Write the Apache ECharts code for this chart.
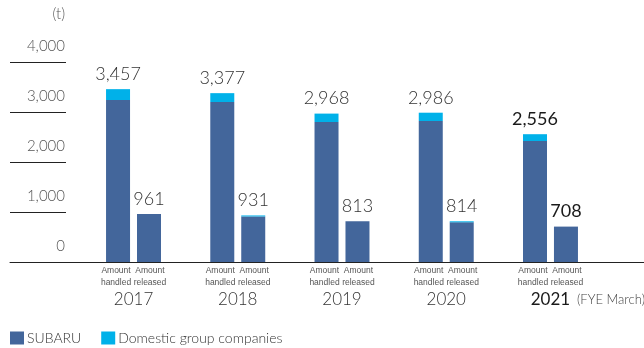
<!DOCTYPE html>
<html>
<head>
<meta charset="utf-8">
<script src="https://cdn.jsdelivr.net/npm/echarts@6/dist/echarts.min.js"></script>
<style>
  html, body { margin: 0; padding: 0; background: #fff; }
  #chart { width: 644px; height: 348px; }
</style>
</head>
<body>
<div id="chart"></div>
<script>
// Fiscal years (FYE March)
const years = ['2017', '2018', '2019', '2020', '2021'];
// Amount handled (t)
const handledSubaru = [3240, 3200, 2800, 2820, 2420];
const handledDomestic = [217, 177, 168, 166, 136];
// Amount released (t)
const releasedSubaru = [961, 911, 813, 794, 708];
const releasedDomestic = [0, 20, 0, 20, 0];
// Labels under each bar pair
const pairLabels = ['Amount\nhandled', 'Amount\nreleased'];
const seriesNames = ['SUBARU', 'Domestic group companies'];
const unitLabel = '(t)';
const fyeLabel = '(FYE March)';

const COLOR_SUBARU = '#43669b';
const COLOR_DOMESTIC = '#00b1e9';
const FONT = 'Lato, "Noto Sans", sans-serif';
const SMALL = '"Liberation Sans", Arial, sans-serif';
const lastIdx = years.length - 1;

const fmt = v => Number(v).toLocaleString('en-US');

function totalLabel(sub, dom) {
  return p => {
    const t = fmt(sub[p.dataIndex] + dom[p.dataIndex]);
    return p.dataIndex === lastIdx ? '{b|' + t + '}' : '{n|' + t + '}';
  };
}

const valueRich = {
  n: { fontFamily: FONT, fontSize: 18, color: '#333', fontWeight: 300 },
  b: { fontFamily: FONT, fontSize: 18, color: '#1a1a1a', fontWeight: 400 }
};

function bottomLabel(text, dx) {
  return {
    show: true, position: 'bottom', distance: 3, offset: [dx, 0],
    formatter: text, fontFamily: SMALL, fontSize: 8.5, lineHeight: 12, color: '#555'
  };
}

const chart = echarts.init(document.getElementById('chart'), null, { renderer: 'canvas' });

chart.setOption({
  animation: false,
  grid: [
    // bars
    { left: 81.4, right: 41.4, top: 62, bottom: 86 },
    // full-width baseline
    { left: 10, right: 0, top: 62, bottom: 86 },
    // short reference lines with value labels
    { left: 10, width: 56, top: 62, bottom: 86 }
  ],
  xAxis: [
    {
      gridIndex: 0, type: 'category', data: years,
      axisLine: { show: false }, axisTick: { show: false },
      axisLabel: {
        margin: 29, fontFamily: FONT, fontSize: 17, color: '#333', fontWeight: 300,
        formatter: (v, i) => i === lastIdx ? '{b|' + v + '}' : v,
        rich: { b: { fontFamily: FONT, fontSize: 17, color: '#1a1a1a', fontWeight: 400 } }
      }
    },
    {
      gridIndex: 1, type: 'value', min: 0, max: 1,
      axisLine: { show: true, onZero: false, lineStyle: { color: '#222', width: 1 } },
      axisTick: { show: false }, axisLabel: { show: false }, splitLine: { show: false }
    },
    {
      gridIndex: 2, type: 'value', min: 0, max: 1, show: false
    }
  ],
  yAxis: [
    { gridIndex: 0, type: 'value', min: 0, max: 4000, interval: 1000, show: false },
    { gridIndex: 1, type: 'value', min: 0, max: 4000, interval: 1000, show: false },
    {
      gridIndex: 2, type: 'value', min: 0, max: 4000, interval: 1000, position: 'right',
      axisLine: { show: false }, axisTick: { show: false },
      splitLine: { show: true, lineStyle: { color: '#222', width: 1 } },
      axisLabel: {
        inside: true, margin: 1, align: 'right', verticalAlign: 'bottom',
        padding: [0, 0, 8, 0], lineHeight: 15,
        fontFamily: FONT, fontSize: 15, color: '#555', fontWeight: 300, formatter: fmt
      }
    }
  ],
  legend: {
    left: 10, top: 331, padding: 0, itemWidth: 14, itemHeight: 13, itemGap: 20,
    icon: 'rect', data: seriesNames,
    textStyle: { fontFamily: FONT, fontSize: 14, color: '#333', fontWeight: 300, padding: [0, 0, 0, -2] }
  },
  graphic: [
    {
      type: 'text', right: 579, top: 7,
      style: { text: unitLabel, font: '300 15px Lato, sans-serif', fill: '#555' }
    },
    {
      type: 'text', left: 577, top: 293,
      style: { text: fyeLabel, font: '300 13px Lato, sans-serif', fill: '#444' }
    }
  ],
  series: [
    {
      name: seriesNames[0], type: 'bar', stack: 'handled', data: handledSubaru,
      xAxisIndex: 0, yAxisIndex: 0, barWidth: 24, barGap: '29%',
      itemStyle: { color: COLOR_SUBARU }, label: bottomLabel(pairLabels[0], -2)
    },
    {
      name: seriesNames[1], type: 'bar', stack: 'handled', data: handledDomestic,
      xAxisIndex: 0, yAxisIndex: 0, barWidth: 24, barGap: '29%',
      itemStyle: { color: COLOR_DOMESTIC },
      label: { show: true, position: 'top', distance: 6, formatter: totalLabel(handledSubaru, handledDomestic), rich: valueRich }
    },
    {
      name: seriesNames[0], type: 'bar', stack: 'released', data: releasedSubaru,
      xAxisIndex: 0, yAxisIndex: 0, barWidth: 24, barGap: '29%',
      itemStyle: { color: COLOR_SUBARU }, label: bottomLabel(pairLabels[1], 1)
    },
    {
      name: seriesNames[1], type: 'bar', stack: 'released', data: releasedDomestic,
      xAxisIndex: 0, yAxisIndex: 0, barWidth: 24, barGap: '29%',
      itemStyle: { color: COLOR_DOMESTIC },
      label: { show: true, position: 'top', distance: 6, formatter: totalLabel(releasedSubaru, releasedDomestic), rich: valueRich }
    }
  ]
});
</script>
</body>
</html>
